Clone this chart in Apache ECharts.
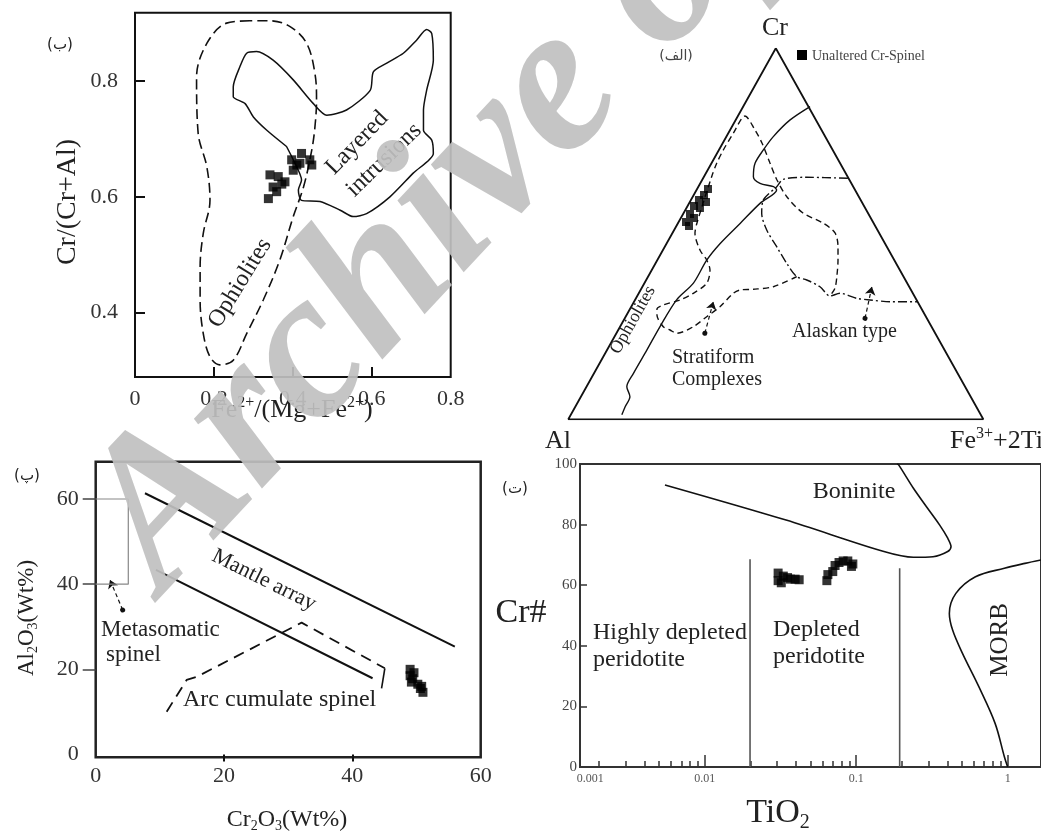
<!DOCTYPE html>
<html><head><meta charset="utf-8">
<script src="https://cdn.jsdelivr.net/npm/echarts@6/dist/echarts.min.js"></script>
<style>html,body{margin:0;padding:0;background:#fff}#c{width:1041px;height:835px}</style>
</head><body><div id="c"></div>
<script>
// ---------- Panel (ب): Cr/(Cr+Al) vs Fe2+/(Mg+Fe2+) ----------
const bXLabels = [0, 0.2, 0.4, 0.6, 0.8];
const bXTicks = [0.2, 0.4, 0.6];
const bYLabels = [0.4, 0.6, 0.8];
const bOphiolites = [[0.291,0.904],[0.232,0.900],[0.182,0.865],[0.156,0.807],[0.160,0.710],[0.182,0.652],[0.190,0.594],[0.173,0.537],[0.165,0.479],[0.165,0.422],[0.173,0.364],[0.190,0.324],[0.215,0.310],[0.249,0.318],[0.283,0.364],[0.325,0.422],[0.367,0.491],[0.401,0.566],[0.427,0.617],[0.448,0.681],[0.456,0.721],[0.460,0.767],[0.456,0.813],[0.435,0.865],[0.393,0.894],[0.342,0.904],[0.291,0.904]];
const bLayered = [[0.384,0.687],[0.334,0.715],[0.300,0.738],[0.279,0.761],[0.249,0.773],[0.249,0.790],[0.266,0.825],[0.283,0.848],[0.308,0.851],[0.350,0.836],[0.401,0.802],[0.452,0.761],[0.486,0.741],[0.536,0.750],[0.596,0.784],[0.604,0.816],[0.638,0.831],[0.680,0.848],[0.714,0.871],[0.739,0.889],[0.752,0.882],[0.756,0.836],[0.739,0.784],[0.731,0.750],[0.731,0.715],[0.752,0.698],[0.756,0.675],[0.705,0.641],[0.646,0.600],[0.587,0.571],[0.553,0.566],[0.520,0.577],[0.469,0.592],[0.422,0.594],[0.414,0.612],[0.422,0.629],[0.401,0.664],[0.384,0.687]];
const bSpinel = [[0.342,0.638],[0.363,0.635],[0.380,0.626],[0.350,0.617],[0.359,0.609],[0.338,0.597],[0.401,0.646],[0.397,0.664],[0.422,0.675],[0.443,0.664],[0.448,0.655],[0.418,0.658],[0.372,0.622],[0.410,0.655]];

// ---------- Panel (الف): ternary, points as [Cr, Fe3+ + 2Ti], Al = remainder ----------
const aTriangle = [[1,0],[0,0],[0,1],[1,0]];
const aSolid = [[0.843,0.161],[0.807,0.131],[0.762,0.113],[0.726,0.107],[0.690,0.105],[0.654,0.119],[0.636,0.144],[0.627,0.181],[0.618,0.193],[0.582,0.171],[0.528,0.150],[0.474,0.129],[0.429,0.119],[0.367,0.118],[0.322,0.100],[0.250,0.096],[0.187,0.096],[0.124,0.095],[0.088,0.097],[0.061,0.118],[0.034,0.120],[0.012,0.123]];
const aDashed = [[0.3844,0.3582],[0.3574,0.3153],[0.3504,0.2706],[0.3485,0.2394],[0.3396,0.2278],[0.3035,0.2137],[0.2765,0.1952],[0.2496,0.1764],[0.2318,0.1453],[0.2407,0.1247],[0.2496,0.1041],[0.2811,0.0731],[0.2973,0.0650],[0.3081,0.0748],[0.3216,0.1084],[0.3396,0.1314],[0.3666,0.1502],[0.4024,0.1402],[0.4294,0.1188],[0.4563,0.0891],[0.5013,0.0546],[0.5291,0.0455],[0.6539,0.0185],[0.6900,0.0126],[0.7259,0.0106],[0.7709,0.0122],[0.8175,0.0170],[0.7798,0.0600],[0.7447,0.0943],[0.6908,0.1406],[0.6450,0.1804],[0.5992,0.2274],[0.5561,0.2875],[0.5291,0.3491],[0.5022,0.3916],[0.4644,0.4177],[0.4294,0.4352],[0.3889,0.4530],[0.3539,0.4657],[0.3323,0.4645]];
const aDashDot = [[0.6496,0.3490],[0.6523,0.2484],[0.6469,0.1946],[0.6270,0.1887],[0.5911,0.1743],[0.5553,0.1884],[0.5102,0.2230],[0.4652,0.2696],[0.4205,0.3160],[0.3844,0.3582],[0.3755,0.3867],[0.3574,0.4278],[0.3323,0.4645],[0.3396,0.4849],[0.3261,0.5319],[0.3216,0.5662],[0.3170,0.6167],[0.3170,0.6825]];
const aSpinel = [[0.5318,0.0177],[0.5534,0.0166],[0.5749,0.0154],[0.5911,0.0193],[0.6046,0.0247],[0.6208,0.0262],[0.5695,0.0325],[0.5426,0.0316],[0.5857,0.0389],[0.5210,0.0303]];
const aArrowStratiform = [[0.232,0.213],[0.317,0.191]];
const aArrowAlaskan = [[0.272,0.579],[0.357,0.553]];

// ---------- Panel (پ): Al2O3 vs Cr2O3 ----------
const pXLabels = [0, 20, 40, 60];
const pYLabels = [0, 20, 40, 60];
const pYTicks = [20, 40, 60];
const pMantleUpper = [[7.68,61.35],[55.97,25.32]];
const pMantleLower = [[9.39,43.34],[43.15,17.90]];
const pArcDashed = [[11.06,10.05],[14.17,17.50],[15.70,18.20],[32.09,30.96],[45.06,20.25]];
const pArcTail = [[45.06,20.25],[44.55,15.55]];
const pMetaBox = [[0,60],[5.08,60],[5.08,40],[0,40]];
const pMetaArrow = [[4.20,33.94],[2.23,40.99]];
const pSpinel = [[49.0,20.0],[49.0,18.5],[49.2,17.0],[49.6,19.2],[50.2,16.5],[50.6,15.5],[51.0,14.6],[50.8,16.0],[49.4,17.8]];

// ---------- Panel (ت): Cr# vs TiO2 ----------
const tXLabelValues = [0.00175, 0.01, 0.1, 1];
const tXLabelTexts = ['0.001', '0.01', '0.1', '1'];
const tMajorTicks = [0.01, 0.1, 1];
const tMinorTicks = [0.002,0.003,0.004,0.005,0.006,0.007,0.008,0.009,0.02,0.03,0.04,0.05,0.06,0.07,0.08,0.09,0.2,0.3,0.4,0.5,0.6,0.7,0.8,0.9];
const tYTicks = [20, 40, 60, 80];
const tBoninite = [[0.00546,93.1],[0.0344,81.5],[0.1524,71.1],[0.2386,69.2],[0.3214,69.4],[0.402,71.1],[0.4227,72.7],[0.402,75.5],[0.355,79.9],[0.291,85.9],[0.2386,92.0],[0.1906,99.7],[0.186,100]];
const tMorb = [[1.66,68.3],[1.3,67.2],[0.951,65.6],[0.613,62.8],[0.455,57.3],[0.412,50.7],[0.433,45.2],[0.503,37.5],[0.645,26.5],[0.826,14.4],[0.951,3.4],[1.0,0]];
const tBoundary1 = [[0.0199,0],[0.0199,68.6]];
const tBoundary2 = [[0.1936,0],[0.1936,65.6]];
const tSpinel = [[0.0305,64.0],[0.0305,61.5],[0.0330,63.0],[0.0352,62.5],[0.0368,62.0],[0.0395,62.0],[0.0420,61.8],[0.0320,60.8],[0.0640,61.5],[0.0650,63.5],[0.0700,64.5],[0.0725,66.5],[0.0770,67.5],[0.0820,68.0],[0.0880,68.0],[0.0950,67.0],[0.0930,66.2]];

// ---------- rendering ----------
const SERIF = 'Liberation Serif';
const INK = '#111';
const tern = p => [p[1] + p[0] / 2, p[0]];

const chart = echarts.init(document.getElementById('c'), null, {renderer: 'canvas'});

function lineS(g, data, type, width, color, smooth) {
  return {type: 'line', xAxisIndex: g.x, yAxisIndex: g.y, data: data, showSymbol: false, symbol: 'none',
    smooth: smooth || false, silent: true, animation: false,
    lineStyle: {color: color || INK, width: width || 1.5, type: type || 'solid'}};
}
function squares(g, data, size) {
  return {type: 'scatter', xAxisIndex: g.x, yAxisIndex: g.y, data: data, symbol: 'rect', symbolSize: size,
    itemStyle: {color: '#000'}, silent: true, animation: false, z: 5};
}
function arrow(g, pair, dashed) {
  return {type: 'lines', coordinateSystem: 'cartesian2d', xAxisIndex: g.x, yAxisIndex: g.y,
    symbol: ['circle', 'arrow'], symbolSize: [5, 8], silent: true, animation: false,
    itemStyle: {color: INK, opacity: 1},
    lineStyle: {color: INK, width: 1.2, opacity: 1, type: dashed ? [4, 3] : 'solid', curveness: 0},
    data: [{coords: pair}]};
}
const G0 = {x: 0, y: 0}, G1 = {x: 1, y: 1}, G2 = {x: 2, y: 2}, G3 = {x: 3, y: 3};

function txt(text, x, y, size, opts) {
  opts = opts || {};
  return {type: 'text', x: x, y: y, rotation: opts.rot || 0, z: 50, silent: true,
    style: {text: text, fontFamily: opts.font || SERIF, fontSize: size, fill: opts.color || '#222',
      align: opts.align || 'center', verticalAlign: opts.va || 'middle', rich: opts.rich,
      fontStyle: opts.style || 'normal', fontWeight: opts.weight || 'normal'}};
}
const richSS = s => ({sup: {fontSize: Math.round(s * 0.6), verticalAlign: 'top', lineHeight: s * 1.15, fontFamily: SERIF, fill: '#222'},
  sub: {fontSize: Math.round(s * 0.6), verticalAlign: 'bottom', lineHeight: s * 1.15, fontFamily: SERIF, fill: '#222'},
  n: {fontSize: s, lineHeight: s * 1.15, fontFamily: SERIF, fill: '#222'}});

const labelBase = {fontFamily: SERIF, color: '#333'};

const option = {
  backgroundColor: '#fff',
  animation: false,
  grid: [
    {left: 135, top: 12.7, width: 315.7, height: 364.3, show: true, borderColor: INK, borderWidth: 2, backgroundColor: 'transparent'},
    {left: 568.3, top: 48.3, width: 415, height: 371, show: false},
    {left: 95.7, top: 461.7, width: 385, height: 295.6, show: true, borderColor: '#222', borderWidth: 2.5, backgroundColor: 'transparent'},
    {left: 580, top: 464, width: 470, height: 303, show: true, borderColor: '#333', borderWidth: 2, backgroundColor: 'transparent'}
  ],
  xAxis: [
    {gridIndex: 0, type: 'value', position: 'bottom', min: 0, max: 0.8, splitLine: {show: false}, axisLine: {show: false},
      axisTick: {show: true, inside: true, length: 10, customValues: bXTicks, lineStyle: {color: INK, width: 2}},
      axisLabel: {...labelBase, fontSize: 22, margin: 11, customValues: bXLabels, formatter: v => v === 0 ? '0' : v.toFixed(1)}},
    {gridIndex: 1, type: 'value', min: 0, max: 1, show: false},
    {gridIndex: 2, type: 'value', position: 'bottom', min: 0, max: 60, splitLine: {show: false}, axisLine: {show: false},
      axisTick: {show: true, inside: false, length: 7, customValues: [20, 40], lineStyle: {color: INK, width: 2}},
      axisLabel: {...labelBase, fontSize: 22, margin: 8, customValues: pXLabels}},
    {gridIndex: 3, type: 'log', position: 'bottom', logBase: 10, min: 0.0015, max: 1.66, splitLine: {show: false}, axisLine: {show: false},
      axisTick: {show: true, inside: true, length: 12, customValues: tMajorTicks, lineStyle: {color: '#333', width: 1.5}},
      axisLabel: {...labelBase, fontSize: 12, margin: 6, color: '#555', customValues: tXLabelValues,
        formatter: v => { let i = 0, d = Infinity; tXLabelValues.forEach((u, k) => { const e = Math.abs(Math.log10(u) - Math.log10(v)); if (e < d) { d = e; i = k; } }); return tXLabelTexts[i]; }}},
    {gridIndex: 3, type: 'log', position: 'bottom', offset: 0, logBase: 10, min: 0.0015, max: 1.66, splitLine: {show: false}, axisLine: {show: false},
      axisTick: {show: true, inside: true, length: 6, customValues: tMinorTicks, lineStyle: {color: '#333', width: 1.5}},
      axisLabel: {show: false}}
  ],
  yAxis: [
    {gridIndex: 0, type: 'value', position: 'left', min: 0.289, max: 0.918, splitLine: {show: false}, axisLine: {show: false},
      axisTick: {show: true, inside: true, length: 10, customValues: bYLabels, lineStyle: {color: INK, width: 2}},
      axisLabel: {...labelBase, fontSize: 22, margin: 17, customValues: bYLabels, formatter: v => v.toFixed(1)}},
    {gridIndex: 1, type: 'value', min: 0, max: 1, show: false},
    {gridIndex: 2, type: 'value', position: 'left', min: -0.66, max: 68.76, splitLine: {show: false}, axisLine: {show: false},
      axisTick: {show: true, inside: false, length: 13, customValues: pYTicks, lineStyle: {color: '#444', width: 1.5}},
      axisLabel: {...labelBase, fontSize: 22, margin: 17, customValues: pYLabels}},
    {gridIndex: 3, type: 'value', position: 'left', min: 0, max: 100, interval: 20, splitLine: {show: false}, axisLine: {show: false},
      axisTick: {show: true, inside: true, length: 7, customValues: tYTicks, lineStyle: {color: '#333', width: 1.5}},
      axisLabel: {...labelBase, fontSize: 15, margin: 3, color: '#444'}}
  ],
  series: [
    // panel (ب)
    lineS(G0, bOphiolites, [10, 5], 1.6, INK, 0.35),
    lineS(G0, bLayered, 'solid', 1.5, INK, 0.25),
    squares(G0, bSpinel, 9),
    // panel (الف)
    lineS(G1, aTriangle.map(tern), 'solid', 1.8),
    lineS(G1, aSolid.map(tern), 'solid', 1.4, INK, 0.3),
    lineS(G1, aDashed.map(tern), [6, 4], 1.4, INK, 0.3),
    lineS(G1, aDashDot.map(tern), [9, 3, 2, 3], 1.4, INK, 0.3),
    squares(G1, aSpinel.map(tern), 8),
    arrow(G1, aArrowStratiform.map(tern), true),
    arrow(G1, aArrowAlaskan.map(tern), true),
    // panel (پ)
    lineS(G2, pMantleUpper, 'solid', 2),
    lineS(G2, pMantleLower, 'solid', 2),
    lineS(G2, pArcDashed, [11, 7], 1.8),
    lineS(G2, pArcTail, 'solid', 1.6),
    lineS(G2, pMetaBox, 'solid', 1.2, '#888'),
    arrow(G2, pMetaArrow, true),
    squares(G2, pSpinel, 9),
    // panel (ت)
    lineS(G3, tBoninite, 'solid', 1.6, INK, 0.3),
    lineS(G3, tMorb, 'solid', 1.6, INK, 0.35),
    lineS(G3, tBoundary1, 'solid', 1.6, '#555'),
    lineS(G3, tBoundary2, 'solid', 1.6, '#555'),
    squares(G3, tSpinel, 9)
  ],
  graphic: [
    // panel (ب) texts
    txt('(ب)', 60, 45, 15, {font: 'DejaVu Sans'}),
    txt('Cr/(Cr+Al)', 68, 202, 28, {rot: Math.PI / 2}),
    txt('{n|Fe}{sup|2+}{n|/(Mg+Fe}{sup|2+}{n|)}', 292, 410, 26, {rich: richSS(26)}),
    txt('Ophiolites', 240, 283, 24, {rot: 1.02}),
    txt('Layered', 357, 143, 24, {rot: 0.80}),
    txt('intrusions', 384, 160, 24, {rot: 0.77}),
    // panel (الف) texts
    txt('Cr', 775, 28, 26),
    txt('Al', 545, 441, 26, {align: 'left'}),
    txt('{n|Fe}{sup|3+}{n|+2Ti}', 950, 441, 26, {align: 'left', rich: richSS(26)}),
    txt('(الف)', 676, 56, 14, {font: 'DejaVu Sans', color: '#444'}),
    {type: 'rect', x: 797, y: 50, shape: {width: 10, height: 10}, style: {fill: '#000'}, z: 50, silent: true},
    txt('Unaltered Cr-Spinel', 812, 56, 14, {align: 'left', color: '#444'}),
    txt('Ophiolites', 633, 320, 18, {rot: 1.06}),
    txt('Stratiform', 672, 358, 20, {align: 'left'}),
    txt('Complexes', 672, 380, 20, {align: 'left'}),
    txt('Alaskan type', 792, 332, 20, {align: 'left'}),
    // panel (پ) texts
    txt('(پ)', 27, 476, 15, {font: 'DejaVu Sans'}),
    txt('{n|Al}{sub|2}{n|O}{sub|3}{n|(Wt%)}', 27, 618, 23, {rot: Math.PI / 2, rich: richSS(23)}),
    txt('{n|Cr}{sub|2}{n|O}{sub|3}{n|(Wt%)}', 287, 820, 24, {rich: richSS(24)}),
    txt('Mantle array', 264, 580, 22, {rot: -0.46}),
    txt('Metasomatic', 101, 630, 23, {align: 'left'}),
    txt('spinel', 106, 655, 23, {align: 'left'}),
    txt('Arc cumulate spinel', 183, 700, 24, {align: 'left'}),
    // panel (ت) texts
    txt('(ت)', 515, 489, 15, {font: 'DejaVu Sans'}),
    txt('Cr#', 521, 613, 34),
    txt('{n|TiO}{sub|2}', 778, 813, 34, {rich: richSS(34)}),
    txt('Boninite', 854, 492, 24),
    txt('Highly depleted', 593, 633, 24, {align: 'left'}),
    txt('peridotite', 593, 660, 24, {align: 'left'}),
    txt('Depleted', 773, 630, 24, {align: 'left'}),
    txt('peridotite', 773, 657, 24, {align: 'left'}),
    txt('MORB', 1000, 640, 25, {rot: Math.PI / 2}),
    // watermark
    {type: 'text', x: 200, y: 630, rotation: 0.82, z: 100, silent: true,
      style: {text: 'Archive of SID', fontFamily: SERIF, fontSize: 212, fontStyle: 'italic', fontWeight: 'bold',
        fill: 'rgba(192,192,192,0.92)', align: 'left', verticalAlign: 'bottom'}}
  ]
};
chart.setOption(option);
</script></body></html>
